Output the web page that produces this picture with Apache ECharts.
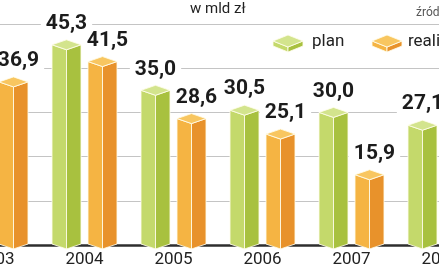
<!DOCTYPE html>
<html>
<head>
<meta charset="utf-8">
<script src="https://cdn.jsdelivr.net/npm/echarts@6/dist/echarts.min.js"></script>
<style>
  html, body { margin: 0; padding: 0; background: #fff; overflow: hidden; }
  /* wykres jest szerszy niż okno: skrajne lata są przycięte jak w oryginale */
  #main { width: 534px; height: 268px; margin-left: -49px; }
</style>
</head>
<body>
<div id="main"></div>
<script>
// lata i wartości (mld zł); 2003 plan i 2008 realizacja są poza kadrem
var years = ['2003', '2004', '2005', '2006', '2007', '2008']
var planValues = [null, 45.3, 35.0, 30.5, 30.0, 27.1]
var realValues = [36.9, 41.5, 28.6, 25.1, 15.9, null]
var yTicks = [0, 10, 20, 30, 40, 50]

var FONT = 'Roboto'
var OX = 49 // przesunięcie płótna względem okna
var greenFaces = { left: '#c4d96b', right: '#a8c13f', top: '#d3e48d' }
var orangeFaces = { left: '#f5b443', right: '#e8922b', top: '#f8c660' }

function fmt(v) {
  return v.toFixed(1).replace('.', ',')
}

// jeden słupek "3D": dwie ściany z przodu + romb na górze
function boxRenderer(faces, shift, labelDx) {
  return function (params, api) {
    var v = api.value(1)
    if (v == null || isNaN(v)) return null
    var top = api.coord([api.value(0), v])
    var base = api.coord([api.value(0), 0])
    var cx = top[0] + shift
    var hw = 14.5, d = 5
    var yT = top[1], yB = base[1] - 1
    var edge = { stroke: 'rgba(255,253,235,0.85)', lineWidth: 1 }
    return {
      type: 'group',
      children: [
        { type: 'polygon', shape: { points: [[cx - hw, yT], [cx, yT + d], [cx, yB + d], [cx - hw, yB]] },
          style: Object.assign({ fill: faces.left }, edge) },
        { type: 'polygon', shape: { points: [[cx, yT + d], [cx + hw, yT], [cx + hw, yB], [cx, yB + d]] },
          style: Object.assign({ fill: faces.right }, edge) },
        { type: 'polygon', shape: { points: [[cx - hw, yT], [cx, yT - d], [cx + hw, yT], [cx, yT + d]] },
          style: Object.assign({ fill: faces.top }, edge) },
        { type: 'text', x: cx + labelDx, y: yT - 21,
          style: { text: fmt(v), align: 'center', verticalAlign: 'middle',
            font: 'bold 21px ' + FONT, fill: '#1c1c1c',
            backgroundColor: '#fff', padding: [0, 5] } }
      ]
    }
  }
}

function legendIcon(x, y, faces) {
  var hw = 15, d = 6, h = 5
  var cx = x + hw
  var edge = { stroke: 'rgba(255,253,235,0.85)', lineWidth: 1 }
  return [
    { type: 'polygon', shape: { points: [[cx - hw, y], [cx, y + d], [cx, y + d + h], [cx - hw, y + h]] },
      style: Object.assign({ fill: faces.left }, edge) },
    { type: 'polygon', shape: { points: [[cx, y + d], [cx + hw, y], [cx + hw, y + h], [cx, y + d + h]] },
      style: Object.assign({ fill: faces.right }, edge) },
    { type: 'polygon', shape: { points: [[cx - hw, y], [cx, y - d], [cx + hw, y], [cx, y + d]] },
      style: Object.assign({ fill: faces.top }, edge) }
  ]
}

var chart = echarts.init(document.getElementById('main'))
chart.setOption({
  animation: false,
  backgroundColor: '#fff',
  grid: { left: 0, right: 0, top: 24, bottom: 23 },
  xAxis: {
    type: 'category',
    data: years,
    axisTick: { show: false },
    axisLine: { lineStyle: { color: '#2e2e2e', width: 2.5 } },
    axisLabel: { margin: 6, fontFamily: FONT, fontSize: 17, color: '#222' }
  },
  yAxis: {
    type: 'value',
    min: yTicks[0],
    max: yTicks[yTicks.length - 1],
    interval: 10,
    axisLine: { show: false },
    axisTick: { show: false },
    axisLabel: { show: false },
    splitLine: { lineStyle: { color: '#c4c4c4', width: 1 } }
  },
  series: [
    {
      name: 'plan',
      type: 'custom',
      renderItem: boxRenderer(greenFaces, -18, 0),
      data: planValues.map(function (v, i) { return [i, v] })
    },
    {
      name: 'realizacja',
      type: 'custom',
      renderItem: boxRenderer(orangeFaces, 18, 5),
      data: realValues.map(function (v, i) { return [i, v] })
    }
  ],
  graphic: [
    { type: 'text', left: OX + 190, top: 2,
      style: { text: 'w mld zł', font: '15px ' + FONT, fill: '#222' } },
    { type: 'text', left: OX + 416, top: 7,
      style: { text: 'źródło: MF', font: '12px ' + FONT, fill: '#555' } },
    { type: 'group', children: legendIcon(OX + 273, 41, greenFaces) },
    { type: 'text', left: OX + 312, top: 33,
      style: { text: 'plan', font: '17px ' + FONT, fill: '#222' } },
    { type: 'group', children: legendIcon(OX + 372, 41, orangeFaces) },
    { type: 'text', left: OX + 408, top: 33,
      style: { text: 'realizacja', font: '17px ' + FONT, fill: '#222' } }
  ]
})
</script>
</body>
</html>
